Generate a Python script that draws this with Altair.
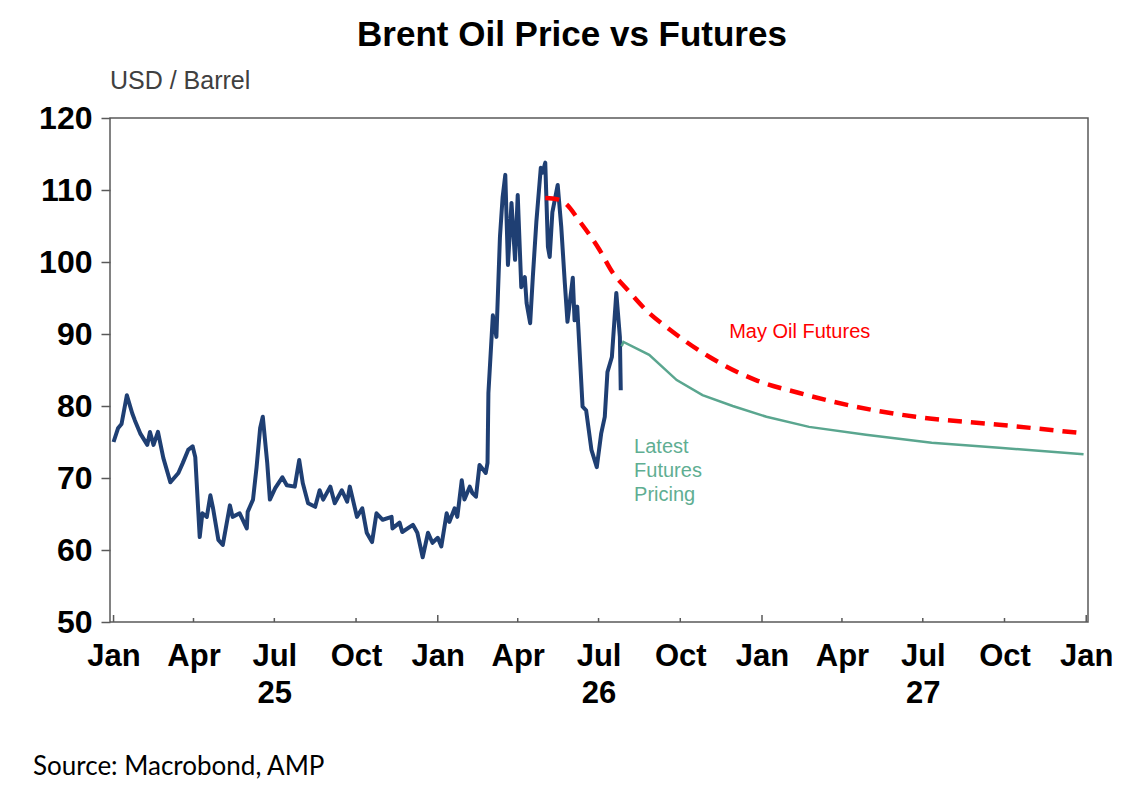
import altair as alt
import pandas as pd

# ---------------- data ----------------
brent_dates = [
    "2025-01-01", "2025-01-06", "2025-01-10", "2025-01-16", "2025-01-22", "2025-01-25", "2025-01-31",
    "2025-02-08", "2025-02-11", "2025-02-15", "2025-02-20", "2025-02-26", "2025-03-06", "2025-03-15",
    "2025-03-20", "2025-03-26", "2025-03-31", "2025-04-03", "2025-04-08", "2025-04-11", "2025-04-16",
    "2025-04-20", "2025-04-23", "2025-04-29", "2025-05-04", "2025-05-12", "2025-05-15", "2025-05-23",
    "2025-05-31", "2025-06-01", "2025-06-07", "2025-06-11", "2025-06-15", "2025-06-18", "2025-06-23",
    "2025-06-26", "2025-07-02", "2025-07-10", "2025-07-15", "2025-07-24", "2025-07-29", "2025-08-02",
    "2025-08-08", "2025-08-16", "2025-08-21", "2025-08-25", "2025-09-02", "2025-09-07", "2025-09-15",
    "2025-09-21", "2025-09-24", "2025-10-02", "2025-10-08", "2025-10-13", "2025-10-19", "2025-10-24",
    "2025-10-31", "2025-11-10", "2025-11-11", "2025-11-19", "2025-11-22", "2025-12-04", "2025-12-09",
    "2025-12-15", "2025-12-21", "2025-12-26", "2026-01-01", "2026-01-05", "2026-01-11", "2026-01-14",
    "2026-01-20", "2026-01-23", "2026-01-28", "2026-01-31", "2026-02-06", "2026-02-09", "2026-02-13",
    "2026-02-17", "2026-02-24", "2026-02-26", "2026-02-27", "2026-03-04", "2026-03-08", "2026-03-12",
    "2026-03-15", "2026-03-18", "2026-03-21", "2026-03-25", "2026-03-29", "2026-04-01", "2026-04-05",
    "2026-04-09", "2026-04-11", "2026-04-15", "2026-04-18", "2026-04-22", "2026-04-27", "2026-04-29",
    "2026-05-02", "2026-05-05", "2026-05-07", "2026-05-10", "2026-05-16", "2026-05-20", "2026-05-24",
    "2026-05-27", "2026-06-02", "2026-06-04", "2026-06-07", "2026-06-13", "2026-06-17", "2026-06-23",
    "2026-06-29", "2026-07-04", "2026-07-08", "2026-07-11", "2026-07-16", "2026-07-21", "2026-07-25",
    "2026-07-26",
]
brent_values = [
    75.0, 76.9, 77.5, 81.5, 79.0, 78.0, 76.2,
    74.6, 76.4, 74.6, 76.4, 72.8, 69.4, 70.7,
    72.1, 73.9, 74.4, 72.9, 61.8, 65.1, 64.6,
    67.6, 65.8, 61.4, 60.7, 66.2, 64.6, 65.1,
    63.0, 65.3, 67.0, 71.5, 76.9, 78.5, 72.1,
    67.0, 68.6, 70.1, 69.0, 68.8, 72.5, 69.3,
    66.5, 66.0, 68.3, 67.0, 68.8, 66.5, 68.3,
    66.7, 68.8, 64.6, 65.8, 62.4, 61.1, 65.1,
    64.2, 64.6, 63.0, 63.8, 62.5, 63.5, 62.4,
    59.0, 62.4, 61.0, 61.7, 60.5, 65.1, 63.9,
    65.8, 64.6, 69.7, 67.0, 68.8, 67.9, 67.4,
    71.8, 70.7, 72.1, 81.8, 92.6, 89.6, 103.5,
    109.0, 112.1, 99.6, 108.2, 100.3, 109.3, 96.5,
    97.9, 94.3, 91.5, 97.9, 105.6, 113.1, 112.4,
    113.8, 102.1, 100.7, 106.9, 110.7, 104.9, 97.1,
    91.7, 97.8, 91.9, 93.8, 79.9, 79.4, 73.9,
    71.5, 76.2, 78.5, 84.7, 86.8, 95.7, 89.6,
    82.2,
]

may_dates = [
    "2026-05-02", "2026-05-16", "2026-05-24", "2026-06-10", "2026-07-02", "2026-07-17", "2026-07-31",
    "2026-08-27", "2026-09-15", "2026-11-03", "2026-12-25", "2027-02-12", "2027-04-09", "2027-06-23",
    "2027-09-25", "2027-12-29",
]
may_values = [108.9, 108.7, 108.2, 105.6, 101.7, 98.5, 96.5,
              92.9, 91.0, 86.8, 83.6, 81.8, 80.1, 78.5,
              77.4, 76.2]

latest_dates = [
    "2026-07-27", "2026-07-29", "2026-08-27", "2026-09-27", "2026-10-26", "2026-11-29", "2027-01-06",
    "2027-02-23", "2027-04-28", "2027-07-11", "2027-09-25", "2027-12-29",
]
latest_values = [88.3, 88.9, 87.1, 83.6, 81.5, 80.0, 78.5,
                 77.1, 76.0, 74.9, 74.2, 73.3]

jan_ticks = ["2025-01-01", "2026-01-01", "2027-01-01", "2028-01-01"]
quarter_ticks = ["2025-04-01", "2025-07-01", "2025-10-01",
                 "2026-04-01", "2026-07-01", "2026-10-01",
                 "2027-04-01", "2027-07-01", "2027-10-01"]
y_ticks = [50, 60, 70, 80, 90, 100, 110, 120]

# ---------------- frames ----------------
brent_df = pd.DataFrame({"date": pd.to_datetime(brent_dates), "value": brent_values})
may_df = pd.DataFrame({"date": pd.to_datetime(may_dates), "value": may_values})
latest_df = pd.DataFrame({"date": pd.to_datetime(latest_dates), "value": latest_values})
jan_df = pd.DataFrame({"date": pd.to_datetime(jan_ticks)})
q_df = pd.DataFrame({"date": pd.to_datetime(quarter_ticks)})

axis_values = [alt.DateTime(year=int(d[:4]), month=int(d[5:7]), date=1)
               for d in sorted(jan_ticks + quarter_ticks)]

W, H = 978, 504
FONT = "Liberation Sans"

x_enc = alt.X(
    "date:T",
    scale=alt.Scale(domain=[alt.DateTime(year=2024, month=12, date=28),
                            alt.DateTime(year=2028, month=1, date=3)]),
    axis=alt.Axis(
        values=axis_values,
        labelExpr="month(datum.value) == 6 ? [timeFormat(datum.value, '%b'), timeFormat(datum.value, '%y')] : timeFormat(datum.value, '%b')",
        ticks=False, domain=False, grid=False,
        labelFont=FONT, labelFontSize=31, labelFontWeight="bold", labelColor="#000000",
        labelPadding=19, labelLineHeight=37, labelOverlap=False, labelBound=False, labelFlush=False,
    ),
    title=None,
)
y_enc = alt.Y(
    "value:Q",
    scale=alt.Scale(domain=[50, 120], nice=False, zero=False),
    axis=alt.Axis(
        values=y_ticks, domain=False, grid=False,
        tickSize=9, tickColor="#595959", tickWidth=1.5,
        labelFont=FONT, labelFontSize=32, labelFontWeight="bold", labelColor="#000000",
        labelPadding=9,
    ),
    title=None,
)

brent = alt.Chart(brent_df).mark_line(color="#1f3f73", strokeWidth=4, strokeJoin="round").encode(
    x=x_enc, y=y_enc)
latest = alt.Chart(latest_df).mark_line(color="#5aa68f", strokeWidth=2.5).encode(
    x="date:T", y="value:Q")
may = alt.Chart(may_df).mark_line(color="#ff0000", strokeWidth=4.5, strokeDash=[14, 9],
                                  interpolate="monotone").encode(x="date:T", y="value:Q")

jan_rules = alt.Chart(jan_df).mark_rule(color="#595959", strokeWidth=1.5).encode(
    x="date:T", y=alt.value(H), y2=alt.value(H - 7))
q_rules = alt.Chart(q_df).mark_rule(color="#595959", strokeWidth=1.5).encode(
    x="date:T", y=alt.value(H), y2=alt.value(H - 4))

may_label = alt.Chart(pd.DataFrame({"date": pd.to_datetime(["2026-11-25"]), "value": [90.3],
                                    "t": ["May Oil Futures"]})).mark_text(
    align="left", baseline="middle", font=FONT, fontSize=20, color="#ff0000").encode(
    x="date:T", y="value:Q", text="t:N")
latest_label = alt.Chart(pd.DataFrame({"date": pd.to_datetime(["2026-08-10"]), "value": [73.5],
                                       "t": [["Latest", "Futures", "Pricing"]]})).mark_text(
    align="left", baseline="alphabetic", font=FONT, fontSize=20, lineHeight=24, color="#5fae92").encode(
    x="date:T", y="value:Q", text="t")

title = alt.Chart(pd.DataFrame({"t": ["Brent Oil Price vs Futures"]})).mark_text(
    align="center", baseline="alphabetic", font=FONT, fontSize=35, fontWeight="bold", color="#000000").encode(
    x=alt.value(462), y=alt.value(-72), text="t:N")
unit = alt.Chart(pd.DataFrame({"t": ["USD / Barrel"]})).mark_text(
    align="left", baseline="alphabetic", font=FONT, fontSize=25, color="#404040").encode(
    x=alt.value(0), y=alt.value(-29), text="t:N")
source = alt.Chart(pd.DataFrame({"t": ["Source: Macrobond, AMP"]})).mark_text(
    align="left", baseline="alphabetic", font="Lato", fontSize=26, color="#000000").encode(
    x=alt.value(-77), y=alt.value(657), text="t:N")

chart = alt.layer(
    brent, may, latest, jan_rules, q_rules, may_label, latest_label, title, unit, source
).properties(
    width=W, height=H,
    autosize=alt.AutoSizeParams(type="none"),
    padding={"left": 102, "top": 110, "right": 40, "bottom": 162},
    background="#ffffff",
).configure_view(
    stroke="#595959", strokeWidth=1.5,
)

chart.save("out.html", embed_options={"renderer": "svg", "actions": False})
